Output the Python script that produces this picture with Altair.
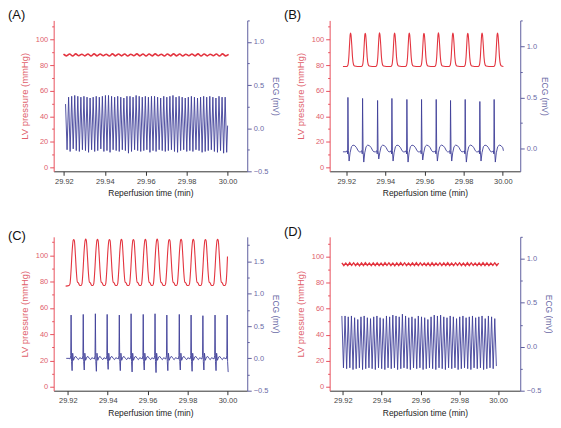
import altair as alt
import pandas as pd

FONT = "Liberation Sans"
RED = "#e3343f"
BLUE = "#3e3e98"
LV_AXIS = "#e8505c"
LV_TEXT = "#e0606b"
ECG_AXIS = "#5f5f9e"
ECG_TEXT = "#6a6aa6"

# ---------------- axis ticks ----------------
x_ticks = [29.92, 29.93, 29.94, 29.95, 29.96, 29.97, 29.98, 29.99, 30.00]
lv_ticks = [0, 10, 20, 30, 40, 50, 60, 70, 80, 90, 100, 110]
ecg_ticks_A = [-0.5, -0.25, 0.0, 0.25, 0.5, 0.75, 1.0, 1.25]
ecg_ticks_B = [0.0, 0.25, 0.5, 0.75, 1.0, 1.25]
ecg_ticks_C = [-0.5, -0.25, 0.0, 0.25, 0.5, 0.75, 1.0, 1.25, 1.5, 1.75]
ecg_ticks_D = [-0.5, -0.25, 0.0, 0.25, 0.5, 0.75, 1.0, 1.25]

# ---------------- panel A (fast rhythm, flat pressure) ----------------
A_press_hi = [88.6, 88.7, 88.8, 88.6, 88.7, 88.8, 88.7, 88.6, 88.8, 88.7, 88.7, 88.6, 88.8, 88.7,
              88.7, 88.8, 88.6, 88.7, 88.8, 88.7, 88.6, 88.7, 88.8, 88.7, 88.6, 88.7, 88.8, 88.5]
A_press_lo = [87.3, 87.2, 87.4, 87.3, 87.2, 87.3, 87.4, 87.2, 87.3, 87.3, 87.2, 87.4, 87.3, 87.2,
              87.3, 87.4, 87.2, 87.3, 87.3, 87.2, 87.4, 87.3, 87.2, 87.3, 87.4, 87.2, 87.3]
A_press_span = [29.9198, 30.0005]
A_ecg_peaks = [0.28, 0.36, 0.37, 0.38, 0.37, 0.36, 0.37, 0.36, 0.35, 0.36,
               0.37, 0.36, 0.37, 0.38, 0.38, 0.37, 0.36, 0.37, 0.36, 0.35,
               0.37, 0.37, 0.36, 0.38, 0.37, 0.36, 0.37, 0.36, 0.37, 0.37,
               0.36, 0.35, 0.37, 0.36, 0.37, 0.38, 0.36, 0.37, 0.36, 0.35,
               0.36, 0.37, 0.36, 0.35, 0.36, 0.37, 0.36, 0.37, 0.36, 0.35,
               0.37, 0.36, 0.36]
A_ecg_troughs = [-0.25, -0.27, -0.24, -0.26, -0.27, -0.25, -0.26, -0.28, -0.25, -0.27,
                 -0.26, -0.24, -0.27, -0.26, -0.28, -0.25, -0.26, -0.27, -0.25, -0.26,
                 -0.29, -0.27, -0.25, -0.26, -0.27, -0.26, -0.25, -0.28, -0.26, -0.27,
                 -0.25, -0.26, -0.27, -0.26, -0.25, -0.27, -0.28, -0.26, -0.25, -0.27,
                 -0.26, -0.27, -0.25, -0.26, -0.28, -0.27, -0.26, -0.25, -0.27, -0.28,
                 -0.26, -0.29, -0.28]
A_ecg_span = [29.9208, 29.99955]
A_ecg_end = [30.0000, 0.03]

# ---------------- panel B (regular beats) ----------------
B_beat_R_times = [29.92085, 29.92834, 29.93600, 29.94332, 29.95098, 29.95847,
                  29.96596, 29.97328, 29.98077, 29.98826, 29.99557]
B_R_amp = [0.50, 0.49, 0.47, 0.49, 0.48, 0.48, 0.48, 0.47, 0.48, 0.46, 0.48]
B_S_amp = [-0.12, -0.13, -0.10, -0.12, -0.13, -0.11, -0.12, -0.12, -0.13, -0.12, -0.13]
B_ecg_shape_dt = [-0.0010, -0.0004, -0.00018, 0.0, 0.00025, 0.0006, 0.0011, 0.0018,
                  0.0026, 0.0035, 0.0044, 0.0052, 0.0058]
B_ecg_shape_v = [-0.03, -0.02, -0.05, "R", -0.02, "S", -0.04, 0.02, 0.035, 0.03, 0.01, -0.02, -0.03]
B_ecg_start = [29.9183, -0.03]
B_ecg_end = [30.0003, -0.02]
B_press_peak_times = [29.9222, 29.9297, 29.9370, 29.9447, 29.9522, 29.9597,
                      29.9671, 29.9745, 29.9821, 29.9894, 29.9973]
B_press_peak = [105.2, 105.0, 105.3, 105.1, 105.2, 105.0, 105.3, 105.1, 105.0, 105.2, 105.1]
B_press_shape_dt = [-0.0020, -0.0014, -0.0009, -0.0005, -0.0002, 0.0, 0.0002, 0.0006,
                    0.0010, 0.0015, 0.0020, 0.0035]
B_press_shape_v = [79.0, 80.0, 86.0, 97.0, 104.0, "P", 104.0, 96.0, 86.0, 80.5, 79.3, 79.0]
B_press_start = [29.9183, 79.0]
B_press_end = [30.0003, 79.0]

# ---------------- panel C (regular, faster beats) ----------------
C_beat_R_times = [29.92164, 29.92772, 29.93380, 29.93971, 29.94579, 29.95170, 29.95778,
                  29.96370, 29.96961, 29.97585, 29.98177, 29.98768, 29.99376, 29.99984]
C_R_amp = [0.67, 0.68, 0.69, 0.68, 0.67, 0.69, 0.68, 0.69, 0.67, 0.68, 0.67, 0.66, 0.67, 0.67]
C_S_amp = [-0.19, -0.18, -0.20, -0.17, -0.19, -0.21, -0.18, -0.22, -0.19, -0.18, -0.20, -0.18, -0.19, -0.21]
C_ecg_shape_dt = [-0.0010, -0.0005, -0.00018, 0.0, 0.00022, 0.0005, 0.0008, 0.0012,
                  0.0018, 0.0024, 0.0030, 0.0037, 0.0043]
C_ecg_shape_v = [0.0, -0.01, 0.04, "R", -0.05, "S", 0.08, -0.03, 0.02, 0.03, 0.0, -0.02, 0.01]
C_ecg_start = [29.9192, 0.0]
C_ecg_end = [30.0004, -0.21]
C_press_peak_times = [29.9230, 29.9290, 29.9349, 29.9409, 29.9469, 29.9529, 29.9589,
                      29.9648, 29.9709, 29.9768, 29.9829, 29.9890, 29.9951, 30.0011]
C_press_peak = [112.0, 112.3, 112.1, 112.0, 112.2, 112.0, 112.1, 112.3, 112.0, 112.2,
                112.1, 112.0, 112.2, 112.0]
C_press_shape_dt = [-0.0024, -0.0019, -0.0014, -0.0008, -0.0003, 0.0, 0.0003, 0.0008,
                    0.0013, 0.0018, 0.0022, 0.0026, 0.0030]
C_press_shape_v = [77.0, 78.5, 88.0, 104.0, 111.5, "P", 111.0, 100.0, 87.0, 79.5, 79.2, 78.0, 77.0]
C_press_start = [29.9189, 76.5]
C_press_end = [30.0000, 99.0]

# ---------------- panel D (fast rhythm, flat pressure) ----------------
D_press_hi = [95.0, 94.9, 95.1, 95.0, 94.9, 95.0, 95.1, 94.9, 95.0, 95.0,
              94.9, 95.1, 95.0, 94.9, 95.0, 95.1, 95.0, 94.9, 95.0, 95.1,
              95.0, 94.9, 95.0, 95.1, 94.9, 95.0, 95.0, 95.1, 94.9, 95.0,
              95.0, 94.9, 95.1, 95.0, 94.9, 95.0, 95.1, 95.0, 94.9, 95.0, 94.8]
D_press_lo = [93.0, 92.9, 93.1, 93.0, 92.8, 93.0, 93.1, 92.9, 93.0, 93.0,
              92.9, 93.1, 93.0, 92.8, 93.0, 93.1, 92.9, 93.0, 93.0, 92.9,
              93.1, 93.0, 92.8, 93.0, 93.1, 92.9, 93.0, 93.0, 92.9, 93.1,
              93.0, 92.8, 93.0, 93.1, 92.9, 93.0, 93.0, 92.9, 93.1, 93.0]
D_press_span = [29.9195, 30.0003]
D_ecg_peaks = [0.35, 0.35, 0.34, 0.35, 0.33, 0.31, 0.34, 0.35, 0.33, 0.32,
               0.34, 0.35, 0.33, 0.32, 0.35, 0.34, 0.36, 0.35, 0.34, 0.37,
               0.35, 0.33, 0.34, 0.32, 0.35, 0.34, 0.33, 0.31, 0.34, 0.36,
               0.35, 0.36, 0.34, 0.33, 0.35, 0.34, 0.32, 0.34, 0.35, 0.33,
               0.34, 0.35, 0.33, 0.34, 0.35, 0.32, 0.35, 0.34, 0.32]
D_ecg_troughs = [-0.24, -0.25, -0.24, -0.26, -0.25, -0.24, -0.26, -0.25, -0.24, -0.25,
                 -0.26, -0.24, -0.25, -0.26, -0.24, -0.25, -0.24, -0.26, -0.25, -0.24,
                 -0.25, -0.26, -0.24, -0.25, -0.24, -0.26, -0.25, -0.24, -0.25, -0.26,
                 -0.24, -0.25, -0.26, -0.24, -0.25, -0.24, -0.26, -0.25, -0.24, -0.25,
                 -0.26, -0.24, -0.25, -0.24, -0.26, -0.25, -0.24, -0.25, -0.22]
D_ecg_span = [29.9195, 29.9991]


# ---------------- table builders ----------------
def alternating(hi, lo, span, end=None):
    vals = []
    for i in range(max(len(hi), len(lo))):
        if i < len(hi):
            vals.append(hi[i])
        if i < len(lo):
            vals.append(lo[i])
    n = len(vals)
    step = (span[1] - span[0]) / (n - 1)
    rows = [{"t": span[0] + i * step, "v": v} for i, v in enumerate(vals)]
    if end is not None:
        rows.append({"t": end[0], "v": end[1]})
    return pd.DataFrame(rows)


def beats(times, shape_dt, shape_v, amps, start, end):
    rows = [{"t": start[0], "v": start[1]}]
    for i, r in enumerate(times):
        for dt, v in zip(shape_dt, shape_v):
            t = r + dt
            if start[0] < t < end[0]:
                val = amps[v][i] if isinstance(v, str) else v
                rows.append({"t": t, "v": val})
    rows.append({"t": end[0], "v": end[1]})
    return pd.DataFrame(rows).sort_values("t")


A_press = alternating(A_press_hi, A_press_lo, A_press_span)
A_ecg = alternating(A_ecg_peaks, A_ecg_troughs, A_ecg_span, A_ecg_end)
B_press = beats(B_press_peak_times, B_press_shape_dt, B_press_shape_v, {"P": B_press_peak},
                B_press_start, B_press_end)
B_ecg = beats(B_beat_R_times, B_ecg_shape_dt, B_ecg_shape_v, {"R": B_R_amp, "S": B_S_amp},
              B_ecg_start, B_ecg_end)
C_press = beats(C_press_peak_times, C_press_shape_dt, C_press_shape_v, {"P": C_press_peak},
                C_press_start, C_press_end)
C_ecg = beats(C_beat_R_times, C_ecg_shape_dt, C_ecg_shape_v, {"R": C_R_amp, "S": C_S_amp},
              C_ecg_start, C_ecg_end)
D_press = alternating(D_press_hi, D_press_lo, D_press_span)
D_ecg = alternating(D_ecg_peaks, D_ecg_troughs, D_ecg_span)


# ---------------- axes ----------------
def x_axis():
    major = "abs(datum.value*50 - round(datum.value*50)) < 0.001"
    return alt.Axis(values=x_ticks, title="Reperfusion time (min)",
                    labelExpr=f"{major} ? format(datum.value, '.2f') : ''",
                    tickSize={"condition": {"test": major, "value": 4}, "value": 2},
                    grid=False, domainColor="#333333", tickColor="#333333",
                    labelColor="#444444", titleColor="#222222",
                    labelFont=FONT, titleFont=FONT, labelFontSize=7.5, titleFontSize=8.5,
                    titleFontWeight="normal", labelPadding=2, titlePadding=4,
                    labelOverlap=False, labelFlush=False)


def left_axis():
    major = "datum.value % 20 === 0"
    return alt.Axis(values=lv_ticks, title="LV pressure (mmHg)", orient="left",
                    labelExpr=f"{major} ? format(datum.value, 'd') : ''",
                    tickSize={"condition": {"test": major, "value": 4}, "value": 2},
                    grid=False, domainColor=LV_AXIS, tickColor=LV_AXIS,
                    labelColor=LV_TEXT, titleColor=LV_TEXT,
                    labelFont=FONT, titleFont=FONT, labelFontSize=7.5, titleFontSize=9.5,
                    titleFontWeight="normal", labelPadding=2, titlePadding=6,
                    labelOverlap=False)


def right_axis(vals):
    major = "abs(datum.value*2 - round(datum.value*2)) < 0.001"
    return alt.Axis(values=vals, title="ECG (mV)", orient="right",
                    labelExpr=f"{major} ? format(datum.value, '.1f') : ''",
                    tickSize={"condition": {"test": major, "value": 4}, "value": 2},
                    grid=False, domainColor=ECG_AXIS, tickColor=ECG_AXIS,
                    labelColor=ECG_TEXT, titleColor=ECG_TEXT,
                    labelFont=FONT, titleFont=FONT, labelFontSize=7.5, titleFontSize=8.5,
                    titleFontWeight="normal", labelPadding=2, titlePadding=3,
                    labelOverlap=False)


def panel(label, press, ecg, xdom, ldom, rdom, rticks, w, h, psw, pinterp):
    xs = alt.Scale(domain=xdom, nice=False, zero=False)
    p = alt.Chart(press).mark_line(color=RED, strokeWidth=psw, interpolate=pinterp).encode(
        x=alt.X("t:Q", scale=xs, axis=x_axis()),
        y=alt.Y("v:Q", scale=alt.Scale(domain=ldom, nice=False, zero=False), axis=left_axis()),
    )
    e = alt.Chart(ecg).mark_line(color=BLUE, strokeWidth=0.9).encode(
        x=alt.X("t:Q", scale=xs),
        y=alt.Y("v:Q", scale=alt.Scale(domain=rdom, nice=False, zero=False), axis=right_axis(rticks)),
    )
    return alt.layer(p, e).resolve_scale(y="independent").properties(
        width=w, height=h,
        title=alt.TitleParams(text=label, anchor="start", frame="group", dx=-46, offset=-6,
                              baseline="top", fontSize=13, font=FONT, fontWeight="normal",
                              color="#111111"),
    )


pA = panel("(A)", A_press, A_ecg, [29.915, 30.0096], [-3, 115], [-0.5, 1.25], ecg_ticks_A,
           195, 152, 1.6, "monotone")
pB = panel("(B)", B_press, B_ecg, [29.9115, 30.0089], [-3, 115], [-0.22, 1.25], ecg_ticks_B,
           192, 152, 1.1, "monotone")
pC = panel("(C)", C_press, C_ecg, [29.9129, 30.0099], [-3, 114], [-0.5, 1.88], ecg_ticks_C,
           195, 155, 1.1, "monotone")
pD = panel("(D)", D_press, D_ecg, [29.9132, 30.0114], [-3, 115], [-0.5, 1.25], ecg_ticks_D,
           192, 155, 1.4, "linear")

chart = alt.concat(pA, pB, pC, pD, columns=2, spacing={"row": 66, "column": 83},
                   bounds="flush").properties(padding=0).configure_view(stroke=None)

chart.save("out.html", embed_options={"renderer": "svg", "actions": False})
